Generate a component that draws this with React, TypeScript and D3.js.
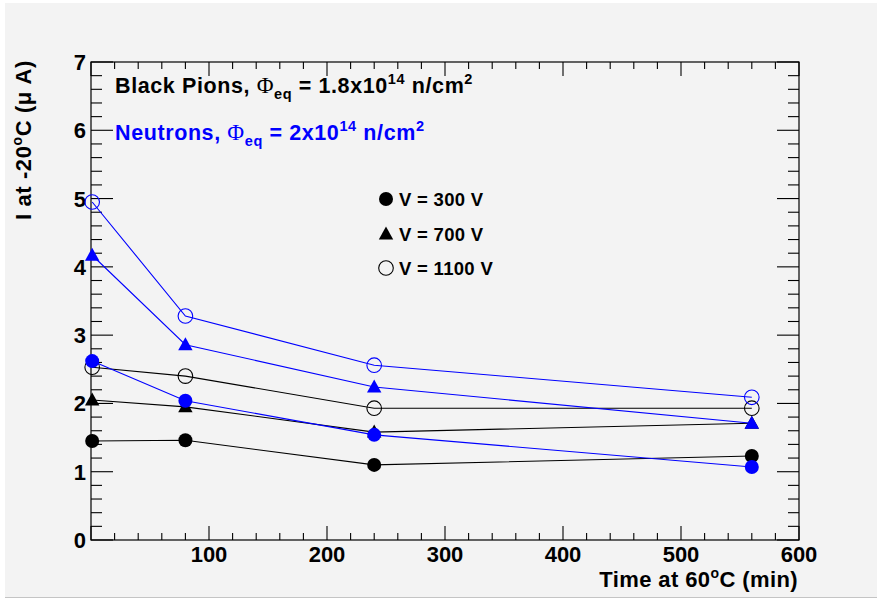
import React from "react";
import * as d3 from "d3";

// Annealing time at 60°C (min)
const times = [1, 80, 240, 560];

// Leakage current at -20°C (µA), irradiated with pions
const pion300 = [1.45, 1.46, 1.1, 1.23];
const pion700 = [2.05, 1.95, 1.58, 1.71];
const pion1100 = [2.53, 2.4, 1.93, 1.93];

// Leakage current at -20°C (µA), irradiated with neutrons
const neutron300 = [2.62, 2.04, 1.54, 1.07];
const neutron700 = [4.17, 2.86, 2.24, 1.71];
const neutron1100 = [4.95, 3.28, 2.56, 2.09];

const xTicks = [100, 200, 300, 400, 500, 600];
const yTicks = [0, 1, 2, 3, 4, 5, 6, 7];
const legendLabels = ["V = 300 V", "V = 700 V", "V = 1100 V"];

const W = 877;
const H = 599;
const FONT = "'Liberation Sans', Arial, Helvetica, sans-serif";
const SERIF = "'Liberation Serif', 'DejaVu Serif', serif";
const BLUE = "#0000ff";

const x = d3.scaleLinear().domain([0, 600]).range([91, 799]);
const y = d3.scaleLinear().domain([0, 7]).range([540, 62]);

type Shape = "circle" | "triangle" | "open";

function Marker({ cx, cy, shape, color }: { cx: number; cy: number; shape: Shape; color: string }) {
  if (shape === "circle") return <circle cx={cx} cy={cy} r={7} fill={color} />;
  if (shape === "open")
    return <circle cx={cx} cy={cy} r={7.3} fill="none" stroke={color} strokeWidth={1.1} />;
  const p = `M${cx},${cy - 7.5}L${cx + 7.2},${cy + 5.5}L${cx - 7.2},${cy + 5.5}Z`;
  return <path d={p} fill={color} />;
}

function Series({ values, shape, color }: { values: number[]; shape: Shape; color: string }) {
  const pts: [number, number][] = times.map((t, i) => [x(t), y(values[i])]);
  const line = d3.line()(pts) || "";
  return (
    <g>
      <path d={line} fill="none" stroke={color} strokeWidth={1.1} />
      {pts.map(([cx, cy], i) => (
        <Marker key={i} cx={cx} cy={cy} shape={shape} color={color} />
      ))}
    </g>
  );
}

export default function App() {
  const xMinor = d3.range(0, 601, 20);
  const yMinor = d3.range(0, 7.001, 0.2);
  const [x0, x1] = x.range();
  const [y0, y1] = y.range();

  return (
    <svg
      width={W}
      height={H}
      style={{ position: "absolute", left: 0, top: 0, fontFamily: FONT }}
    >
      <rect x={0} y={0} width={W} height={H} fill="#ffffff" />
      <rect x={5} y={3} width={W - 5} height={594} fill="#f3f3f3" />
      <line x1={5} x2={W} y1={597.5} y2={597.5} stroke="#c4c4c4" strokeWidth={1.2} />

      {/* frame */}
      <rect x={x0} y={y1} width={x1 - x0} height={y0 - y1} fill="none" stroke="#000" strokeWidth={1.2} />

      {/* x ticks, bottom and top */}
      {xMinor.map((v) => {
        const major = v % 100 === 0;
        const len = major ? 14 : 7;
        return (
          <g key={"xt" + v} stroke="#000" strokeWidth={1.1}>
            <line x1={x(v)} x2={x(v)} y1={y0} y2={y0 - len} />
            <line x1={x(v)} x2={x(v)} y1={y1} y2={y1 + len} />
          </g>
        );
      })}
      {/* y ticks, left and right */}
      {yMinor.map((v, i) => {
        const major = i % 5 === 0;
        const len = major ? 22 : 11;
        return (
          <g key={"yt" + i} stroke="#000" strokeWidth={1.1}>
            <line x1={x0} x2={x0 + len} y1={y(v)} y2={y(v)} />
            <line x1={x1} x2={x1 - len} y1={y(v)} y2={y(v)} />
          </g>
        );
      })}

      {/* tick labels */}
      {xTicks.map((v) => (
        <text key={"xl" + v} x={x(v)} y={562} textAnchor="middle" fontSize={22} fontWeight="bold">
          {v}
        </text>
      ))}
      {yTicks.map((v) => (
        <text key={"yl" + v} x={86} y={y(v) + 8} textAnchor="end" fontSize={22} fontWeight="bold">
          {v}
        </text>
      ))}

      {/* axis titles */}
      <text x={798} y={587} textAnchor="end" fontSize={22} fontWeight="bold" letterSpacing={0.4}>
        Time at 60
        <tspan fontSize={14} dy={-9}>o</tspan>
        <tspan dy={9}>C (min)</tspan>
      </text>
      <text
        transform="translate(31,60) rotate(-90)"
        textAnchor="end"
        fontSize={22}
        fontWeight="bold"
        letterSpacing={0.6}
      >
        I at -20
        <tspan fontSize={14} dy={-9}>o</tspan>
        <tspan dy={9}>C (μ A)</tspan>
      </text>

      {/* data */}
      <Series values={pion300} shape="circle" color="#000" />
      <Series values={pion700} shape="triangle" color="#000" />
      <Series values={pion1100} shape="open" color="#000" />
      <Series values={neutron300} shape="circle" color={BLUE} />
      <Series values={neutron700} shape="triangle" color={BLUE} />
      <Series values={neutron1100} shape="open" color={BLUE} />

      {/* annotations */}
      <text x={115} y={93} fontSize={21.5} fontWeight="bold" fill="#000" letterSpacing={0.6}>
        Black Pions,{" "}
        <tspan fontFamily={SERIF} fontWeight="normal" fontSize={23}>Φ</tspan>
        <tspan fontSize={14.5} dy={6}>eq</tspan>
        <tspan dy={-6}> = 1.8x10</tspan>
        <tspan fontSize={14.5} dy={-9}>14</tspan>
        <tspan dy={9}> n/cm</tspan>
        <tspan fontSize={14.5} dy={-9}>2</tspan>
      </text>
      <text x={115} y={140} fontSize={21.5} fontWeight="bold" fill={BLUE} letterSpacing={0.6}>
        Neutrons,{" "}
        <tspan fontFamily={SERIF} fontWeight="normal" fontSize={23}>Φ</tspan>
        <tspan fontSize={14.5} dy={6}>eq</tspan>
        <tspan dy={-6}> = 2x10</tspan>
        <tspan fontSize={14.5} dy={-9}>14</tspan>
        <tspan dy={9}> n/cm</tspan>
        <tspan fontSize={14.5} dy={-9}>2</tspan>
      </text>

      {/* legend */}
      {legendLabels.map((label, i) => {
        const cy = [199, 234, 268][i];
        const shape: Shape = (["circle", "triangle", "open"] as Shape[])[i];
        return (
          <g key={label}>
            <Marker cx={386} cy={cy} shape={shape} color="#000" />
            <text x={399} y={cy + 6.5} fontSize={18.5} fontWeight="bold" letterSpacing={0.3}>
              {label}
            </text>
          </g>
        );
      })}
    </svg>
  );
}
